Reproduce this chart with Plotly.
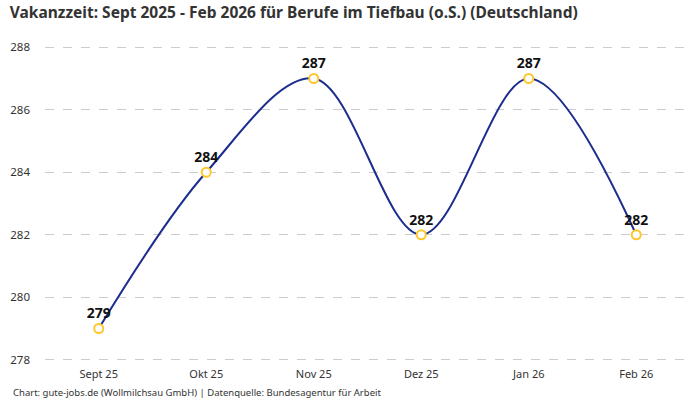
import plotly.graph_objects as go

months = ['Sept 25', 'Okt 25', 'Nov 25', 'Dez 25', 'Jan 26', 'Feb 26']
vakanzzeit = [279, 284, 287, 282, 287, 282]
y_ticks = [278, 280, 282, 284, 286, 288]

font = 'Noto Sans, Roboto, sans-serif'

fig = go.Figure(go.Scatter(
    x=months,
    y=vakanzzeit,
    mode='lines+markers+text',
    text=[str(v) for v in vakanzzeit],
    textposition='top center',
    textfont=dict(size=14, color='#111111', family=font, weight='bold'),
    line=dict(color='#1c2d8e', width=2, shape='spline', smoothing=1),
    marker=dict(size=9, color='white', line=dict(color='#ffc72c', width=2)),
    cliponaxis=False,
    hoverinfo='x+y',
))

fig.update_layout(
    width=700, height=400,
    margin=dict(l=45, r=10, t=41, b=34),
    paper_bgcolor='white', plot_bgcolor='white',
    font=dict(family=font, size=11, color='#333333'),
    title=dict(text='<b>Vakanzzeit: Sept 2025 - Feb 2026 für Berufe im Tiefbau (o.S.) (Deutschland)</b>',
               x=0.014, xanchor='left', y=0.982, yanchor='top',
               font=dict(size=15.5, color='#333333', family=font)),
    showlegend=False,
    xaxis=dict(showgrid=False, showline=False, ticks='', range=[-0.5, 5.5],
               tickfont=dict(size=11, color='#333333')),
    yaxis=dict(range=[277.8, 288.2], tickvals=y_ticks, showline=False, zeroline=False,
               gridcolor='#cccccc', griddash='dash', gridwidth=1,
               ticklabelstandoff=14, tickfont=dict(size=11.5, color='#333333')),
    annotations=[dict(
        text='Chart: gute-jobs.de (Wollmilchsau GmbH) | Datenquelle: Bundesagentur für Arbeit',
        xref='paper', yref='paper', x=-0.053, y=-0.083, xanchor='left', yanchor='middle',
        showarrow=False, font=dict(size=9.5, color='#333333', family=font))],
)

fig.write_html('out.html', config={'displayModeBar': False},
               post_script="document.body.style.margin='0';")
